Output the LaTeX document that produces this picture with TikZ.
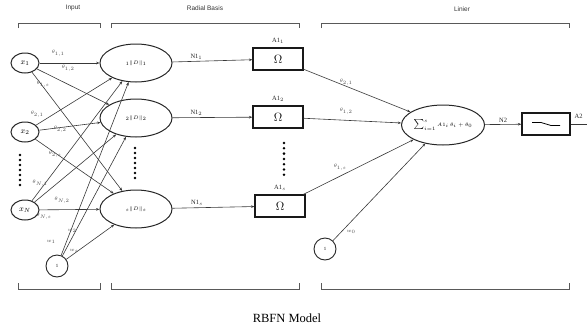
\documentclass[tikz,border=0pt]{standalone}
\usepackage{fontspec}
\setmainfont{Liberation Serif}
\setsansfont{Liberation Sans}
\usetikzlibrary{arrows.meta,shapes.geometric}
\begin{document}
\begin{tikzpicture}[x=1pt,y=-1pt,
  wire/.style={draw=black!78, line width=0.6pt},
  arr/.style={wire, -{Stealth[length=3.4pt,width=2.6pt]}},
  inode/.style={ellipse, draw=black!85, line width=1pt, minimum width=28pt, minimum height=20pt, inner sep=0pt, font=\fontsize{8}{9}\selectfont},
  rnode/.style={ellipse, draw=black!85, line width=1pt, minimum width=72pt, minimum height=38pt, inner sep=0pt, font=\fontsize{4.8}{5}\selectfont},
  bnode/.style={circle, draw=black!85, line width=0.9pt, minimum size=22pt, inner sep=0pt, font=\fontsize{4.8}{5}\selectfont},
  tbox/.style={rectangle, draw=black!90, line width=1.2pt, minimum width=50pt, minimum height=22pt, inner sep=0pt, font=\fontsize{13}{13}\selectfont},
  wlab/.style={font=\fontsize{4}{4}\selectfont, text=black!70, inner sep=0.5pt},
  nlab/.style={font=\fontsize{6.5}{7}\selectfont, text=black!85, inner sep=0.5pt},
  head/.style={font=\sffamily\fontsize{6.5}{7}\selectfont, text=black!80},
  brk/.style={draw=black!65, line width=0.8pt},
  dotm/.style={circle, fill=black, inner sep=0pt, minimum size=2.8pt}
]
\useasboundingbox (0,0) rectangle (587,330);

% section headings and brackets
\node[head] (hin) at (73,8) {Input};
\node[head] (hrb) at (205,8) {Radial Basis};
\node[head] (hli) at (462,9) {Linier};
\foreach \a/\b in {18/100, 111/299, 321/569}{
  \draw[brk] (\a,28) -- (\a,23) -- (\b,23) -- (\b,28);
  \draw[brk] (\a,283) -- (\a,289) -- (\b,289) -- (\b,283);
}

% input layer
\node[inode] (x1) at (25,63) {$x_1$};
\node[inode] (x2) at (25,132) {$x_2$};
\node[inode] (xn) at (25,210) {$x_N$};
\node[bnode] (b1) at (57,266) {1};
\foreach \y in {155,160,...,185} \node[dotm] at (20,\y) {};

% radial basis layer
\node[rnode] (e1) at (136,63) {$_{1}\|D\|_{1}$};
\node[rnode] (e2) at (136,118) {$_{2}\|D\|_{2}$};
\node[rnode] (e3) at (136,209) {$_{s}\|D\|_{s}$};
\foreach \y in {148,153,...,178} \node[dotm] at (135,\y) {};

% input to radial basis connections
\foreach \i in {x1,x2,xn,b1}{
  \foreach \j in {e1,e2,e3}{
    \draw[arr] (\i) -- (\j);
  }
}

% input weight labels
\node[wlab] (w11) at (58,53) {$\theta_{1,1}$};
\node[wlab] (w12) at (68,68) {$\theta_{1,2}$};
\node[wlab] (w1s) at (43,84) {$\theta_{1,s}$};
\node[wlab] (w21) at (37,114) {$\theta_{2,1}$};
\node[wlab] (w22) at (60,129) {$\theta_{2,2}$};
\node[wlab] (w2s) at (55,154) {$\theta_{2,s}$};
\node[wlab] (wn1) at (40,183) {$\theta_{N,1}$};
\node[wlab] (wn2) at (62,200) {$\theta_{N,2}$};
\node[wlab] (wns) at (44,216) {$\theta_{N,s}$};
\node[wlab] (wb1) at (51,242) {$w_1$};
\node[wlab] (wb2) at (72,231) {$w_2$};
\node[wlab] (wbs) at (74,251) {$w_s$};

% transfer boxes
\node[tbox] (o1) at (278,59) {$\Omega$};
\node[tbox] (o2) at (278,117) {$\Omega$};
\node[tbox] (o3) at (280,206) {$\Omega$};
\node[nlab] (a1) at (278,41) {A1$_1$};
\node[nlab] (a2) at (278,99) {A1$_2$};
\node[nlab] (a3) at (280,188) {A1$_s$};
\foreach \y in {143,148.3,...,175} \node[dotm] at (284,\y) {};

\draw[arr] (e1) -- node[nlab, above=1pt, pos=0.3] {N1$_1$} (o1);
\draw[arr] (e2) -- node[nlab, above=1pt, pos=0.3] {N1$_2$} (o2);
\draw[arr] (e3) -- node[nlab, above=1pt, pos=0.3] {N1$_s$} (o3);

% linear layer
\node[ellipse, draw=black!85, line width=1pt, minimum width=74pt, minimum height=40pt, inner sep=0pt, font=\fontsize{5}{5}\selectfont] (sum) at (443,125) {$\sum_{i=1}^{s} A1_i\,\theta_i + \theta_0$};
\node[bnode] (b2) at (325,249) {1};
\draw[arr] (o1) -- (sum);
\draw[arr] (o2) -- (sum);
\draw[arr] (o3) -- (sum);
\draw[arr] (b2) -- (sum);
\node[wlab] (v1) at (346,82) {$\theta_{2,1}$};
\node[wlab] (v2) at (346,111) {$\theta_{1,2}$};
\node[wlab] (v3) at (340,167) {$\theta_{1,s}$};
\node[wlab] (v0) at (351,232) {$w_0$};

% output stage
\node[tbox, minimum width=48pt] (sat) at (546,124) {};
\draw[line width=0.8pt] ([xshift=-14pt,yshift=1.5pt]sat.center) -- ([xshift=-5pt,yshift=1.5pt]sat.center) -- ([xshift=5pt,yshift=-1.5pt]sat.center) -- ([xshift=14pt,yshift=-1.5pt]sat.center);
\draw[arr] (sum) -- node[nlab, above=1pt] {N2} (sat);
\coordinate (out) at (587,124);
\draw[wire] (sat.east) -- (out);
\node[nlab, anchor=west] (a2out) at (574,116) {A2};

% caption
\node[font=\fontsize{12.5}{14}\selectfont] (cap) at (287,318) {RBFN Model};
\end{tikzpicture}
\end{document}
